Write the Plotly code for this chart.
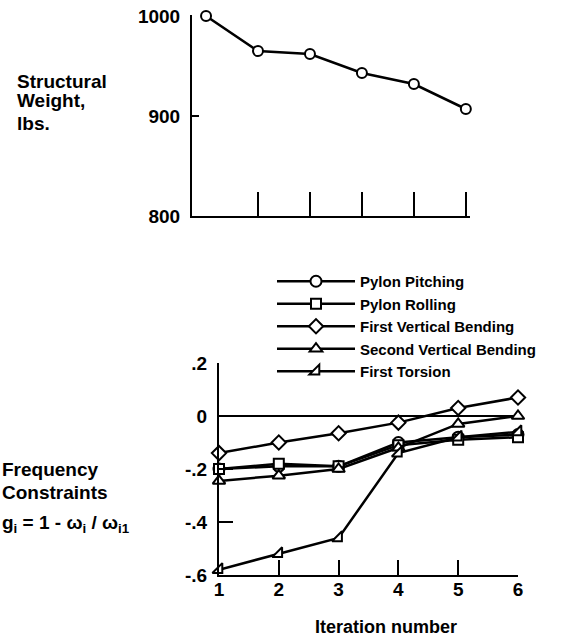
import plotly.graph_objects as go

W, H = 574, 643

# ---- data ----
iterations = [1, 2, 3, 4, 5, 6]
structural_weight = [1000, 965, 962, 943, 932, 907]

series_names = ["Pylon Pitching", "Pylon Rolling", "First Vertical Bending",
                "Second Vertical Bending", "First Torsion"]
pylon_pitching = [-0.20, -0.19, -0.19, -0.10, -0.08, -0.07]
pylon_rolling = [-0.20, -0.18, -0.19, -0.11, -0.09, -0.08]
first_vertical_bending = [-0.14, -0.10, -0.065, -0.025, 0.03, 0.07]
second_vertical_bending = [-0.245, -0.225, -0.20, -0.12, -0.03, 0.00]
first_torsion = [-0.58, -0.52, -0.46, -0.14, -0.08, -0.06]

weight_ticks = [800, 900, 1000]
weight_ticktext = ["800", "900", "1000"]
g_ticks = [-0.6, -0.4, -0.2, 0, 0.2]
g_ticktext = ["-.6", "-.4", "-.2", "0", ".2"]
iter_ticktext = ["1", "2", "3", "4", "5", "6"]

FONT = "Liberation Sans, Arial, sans-serif"
BOLD = 700


def px_x(p):
    return p / W


def px_y(p):
    return 1 - p / H


fig = go.Figure()

# top chart
fig.add_trace(go.Scatter(
    x=iterations, y=structural_weight, mode="lines+markers",
    line=dict(color="black", width=2.5),
    marker=dict(symbol="circle", size=10, color="white",
                line=dict(color="black", width=2)),
    xaxis="x", yaxis="y", showlegend=False, cliponaxis=False))

symbols = ["circle", "square", "diamond", "triangle-up", "triangle-se"]
sizes = [11, 10, 11, 11, 11]
values = [pylon_pitching, pylon_rolling, first_vertical_bending,
          second_vertical_bending, first_torsion]
for name, vals, sym, sz in zip(series_names, values, symbols, sizes):
    fig.add_trace(go.Scatter(
        x=iterations, y=vals, mode="lines+markers", name=name,
        line=dict(color="black", width=2.5),
        marker=dict(symbol=sym, size=sz, color="white",
                    line=dict(color="black", width=2)),
        xaxis="x2", yaxis="y2", cliponaxis=False))

axis_common = dict(showgrid=False, showline=True, linecolor="black",
                   linewidth=2, tickcolor="black", tickwidth=2,
                   automargin=False,
                   tickfont=dict(family=FONT, size=19, color="black",
                                 weight=BOLD))

fig.update_layout(
    width=W, height=H,
    margin=dict(l=0, r=0, t=0, b=0, autoexpand=False),
    paper_bgcolor="white", plot_bgcolor="white",
    font=dict(family=FONT, color="black"),
    xaxis=dict(domain=[px_x(192), px_x(470)], range=[0.73, 6.08],
               anchor="y", ticks="inside", ticklen=24,
               tickvals=iterations[1:], showticklabels=False,
               zeroline=False, **axis_common),
    yaxis=dict(domain=[px_y(216), px_y(15)], range=[800, 1001],
               anchor="x", ticks="inside", ticklen=7,
               tickvals=weight_ticks, ticktext=weight_ticktext,
               ticklabelstandoff=6, zeroline=False, **axis_common),
    yaxis3=dict(overlaying="y", anchor="x", range=[800, 1001],
                ticks="inside", ticklen=22, tickwidth=2, tickcolor="black",
                tickvals=[900], showticklabels=False, showgrid=False,
                showline=False, zeroline=False, automargin=False),
    xaxis2=dict(domain=[px_x(219), px_x(518)], range=[1, 6],
                anchor="y2", ticks="inside", ticklen=15,
                tickvals=iterations, ticktext=iter_ticktext,
                ticklabelstandoff=-4,
                zeroline=False, **axis_common),
    yaxis2=dict(domain=[px_y(575), px_y(363)], range=[-0.6, 0.2],
                anchor="x2", ticks="inside", ticklen=14,
                tickvals=g_ticks, ticktext=g_ticktext,
                ticklabelstandoff=6,
                zeroline=True, zerolinecolor="black", zerolinewidth=2,
                **axis_common),
    legend=dict(x=px_x(272), y=px_y(265), xanchor="left", yanchor="top",
                itemwidth=78, bgcolor="rgba(0,0,0,0)",
                font=dict(family=FONT, size=15, color="black", weight=BOLD),
                tracegroupgap=0),
)

ann_font = dict(family=FONT, size=19, color="black", weight=BOLD)
labels = [
    ("Structural", 15, 81),
    ("Weight,", 15, 100),
    ("lbs.", 15, 123),
    ("Frequency", 0, 469),
    ("Constraints", 0, 492),
    ("g<sub>i</sub> = 1 - \u03c9<sub>i</sub> / \u03c9<sub>i1</sub>", 0, 524),
]
for text, x, y in labels:
    fig.add_annotation(text=text, x=px_x(x), y=px_y(y), xref="paper",
                       yref="paper", xanchor="left", yanchor="middle",
                       showarrow=False, font=ann_font, align="left")

fig.add_annotation(text="Iteration number", x=px_x(386), y=px_y(627),
                   xref="paper", yref="paper", xanchor="center",
                   yanchor="middle", showarrow=False,
                   font=dict(family=FONT, size=18, color="black",
                             weight=BOLD))

# remove the browser's default page margin so the figure fills the window
fig.write_html("out.html",
               config={"displayModeBar": False},
               post_script="document.body.style.margin='0';"
                           "document.body.style.overflow='hidden';")
